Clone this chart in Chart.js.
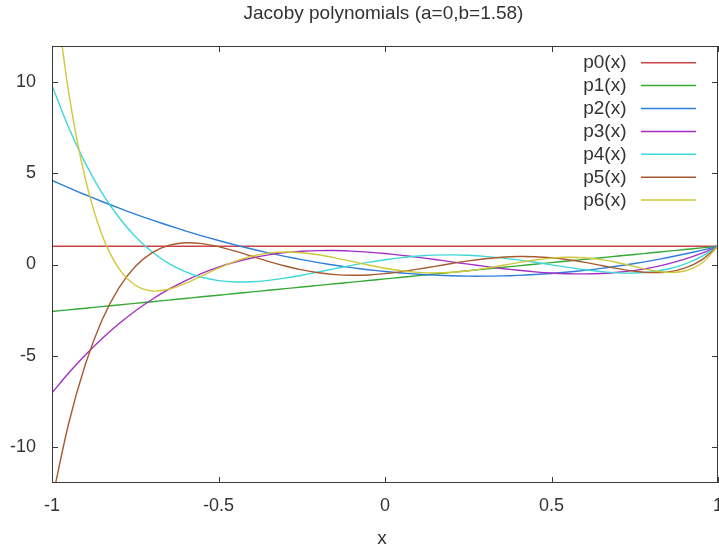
<!DOCTYPE html>
<html>
<head>
<meta charset="utf-8">
<script src="https://cdn.jsdelivr.net/npm/chart.js@4.4.1/dist/chart.umd.min.js"></script>
<style>
html,body{margin:0;padding:0;background:#ffffff;}
#wrap{width:719px;height:552px;position:relative;}
</style>
</head>
<body>
<div id="wrap"><canvas id="c" width="719" height="552"></canvas></div>
<script>
const titleText = 'Jacoby polynomials (a=0,b=1.58)';
const xAxisLabel = 'x';

const xs = [-1,-0.95,-0.9,-0.85,-0.8,-0.75,-0.7,-0.65,-0.6,-0.55,-0.5,-0.45,-0.4,-0.35,-0.3,-0.25,-0.2,-0.15,-0.1,-0.05,0,0.05,0.1,0.15,0.2,0.25,0.3,0.35,0.4,0.45,0.5,0.55,0.6,0.65,0.7,0.75,0.8,0.85,0.9,0.95,1];

const p0 = [1,1,1,1,1,1,1,1,1,1,1,1,1,1,1,1,1,1,1,1,1,1,1,1,1,1,1,1,1,1,1,1,1,1,1,1,1,1,1,1,1];
const p1 = [-2.58,-2.491,-2.401,-2.312,-2.222,-2.133,-2.043,-1.954,-1.864,-1.775,-1.685,-1.596,-1.506,-1.417,-1.327,-1.238,-1.148,-1.059,-0.969,-0.880,-0.79,-0.701,-0.611,-0.522,-0.432,-0.343,-0.253,-0.164,-0.074,0.016,0.105,0.195,0.284,0.374,0.463,0.553,0.642,0.732,0.821,0.911,1];
const p2 = [4.618,4.216,3.830,3.460,3.106,2.768,2.446,2.140,1.850,1.576,1.318,1.076,0.849,0.639,0.445,0.266,0.104,-0.042,-0.173,-0.287,-0.385,-0.468,-0.534,-0.585,-0.619,-0.638,-0.641,-0.627,-0.598,-0.553,-0.491,-0.414,-0.321,-0.212,-0.086,0.055,0.212,0.385,0.574,0.779,1];
const p3 = [-7.050,-5.959,-4.968,-4.073,-3.270,-2.555,-1.924,-1.371,-0.893,-0.486,-0.144,0.136,0.358,0.528,0.650,0.727,0.764,0.765,0.736,0.679,0.601,0.504,0.393,0.273,0.147,0.021,-0.101,-0.216,-0.318,-0.403,-0.468,-0.507,-0.516,-0.491,-0.428,-0.323,-0.170,0.035,0.295,0.615,1];
const p4 = [9.835,7.520,5.567,3.940,2.607,1.537,0.698,0.063,-0.396,-0.703,-0.883,-0.958,-0.948,-0.871,-0.746,-0.588,-0.411,-0.227,-0.048,0.118,0.262,0.379,0.463,0.513,0.527,0.505,0.449,0.363,0.251,0.121,-0.019,-0.159,-0.288,-0.392,-0.458,-0.468,-0.404,-0.247,0.023,0.431,1];
const p5 = [-12.943,-8.730,-5.488,-3.061,-1.311,-0.115,0.638,1.046,1.191,1.148,0.978,0.731,0.451,0.171,-0.085,-0.298,-0.456,-0.555,-0.592,-0.573,-0.503,-0.394,-0.255,-0.102,0.053,0.196,0.315,0.398,0.437,0.427,0.367,0.259,0.114,-0.055,-0.226,-0.369,-0.446,-0.410,-0.203,0.240,1];
const p6 = [16.352,9.458,4.718,1.635,-0.202,-1.138,-1.451,-1.361,-1.042,-0.624,-0.198,0.173,0.451,0.622,0.683,0.647,0.533,0.365,0.169,-0.029,-0.207,-0.346,-0.433,-0.461,-0.429,-0.342,-0.213,-0.058,0.102,0.245,0.349,0.395,0.369,0.267,0.098,-0.112,-0.314,-0.432,-0.358,0.055,1];

const seriesNames = ['p0(x)','p1(x)','p2(x)','p3(x)','p4(x)','p5(x)','p6(x)'];
const seriesColors = ['#c84646','#35a835','#2f7fd8','#a52fc4','#3fd8d8','#a65a2e','#cfc83a'];

const xTickValues = [-1,-0.5,0,0.5,1];
const yTickValues = [-10,-5,0,5,10];
const xRange = [-1, 1];
const yRange = [-12, 12];

const FONT = '"Liberation Sans", Arial, sans-serif';
const TEXT_COLOR = '#333333';

const series = [p0,p1,p2,p3,p4,p5,p6];
const datasets = series.map((arr, i) => ({
  label: seriesNames[i],
  data: arr.map((v, j) => ({x: xs[j], y: v})),
  borderColor: seriesColors[i],
  backgroundColor: seriesColors[i],
  borderWidth: 1.4,
  pointRadius: 0,
  pointHoverRadius: 0,
  tension: 0.3,
  fill: false,
  order: series.length - 1 - i
}));

const framePlugin = {
  id: 'frame',
  afterDraw(chart) {
    const ctx = chart.ctx;
    const a = chart.chartArea;
    const xs_ = chart.scales.x, ys_ = chart.scales.y;
    ctx.save();
    ctx.strokeStyle = '#3a3a3a';
    ctx.lineWidth = 1;
    ctx.strokeRect(a.left + 0.5, a.top + 0.5, a.right - a.left - 1, a.bottom - a.top - 1);
    const tl = 6;
    ctx.beginPath();
    xTickValues.forEach(v => {
      const px = Math.round(xs_.getPixelForValue(v)) + 0.5;
      ctx.moveTo(px, a.bottom); ctx.lineTo(px, a.bottom - tl);
      ctx.moveTo(px, a.top); ctx.lineTo(px, a.top + tl);
    });
    yTickValues.forEach(v => {
      const py = Math.round(ys_.getPixelForValue(v)) + 0.5;
      ctx.moveTo(a.left, py); ctx.lineTo(a.left + tl, py);
      ctx.moveTo(a.right, py); ctx.lineTo(a.right - tl, py);
    });
    ctx.stroke();
    ctx.fillStyle = TEXT_COLOR;
    ctx.font = '19px ' + FONT;
    ctx.textAlign = 'center';
    ctx.textBaseline = 'alphabetic';
    ctx.fillText(titleText, 383.5, 18.5);
    ctx.fillText(xAxisLabel, 382, 544);
    const rowY0 = 62.7, rowStep = 22.9;
    chart.data.datasets.forEach((ds, i) => {
      const yy = rowY0 + i * rowStep;
      ctx.fillStyle = TEXT_COLOR;
      ctx.textAlign = 'right';
      ctx.fillText(ds.label, 626.5, yy + 5.5);
      ctx.strokeStyle = ds.borderColor;
      ctx.lineWidth = 1.5;
      ctx.beginPath();
      ctx.moveTo(641, yy); ctx.lineTo(696, yy);
      ctx.stroke();
    });
    ctx.restore();
  }
};

new Chart(document.getElementById('c'), {
  type: 'line',
  data: { datasets },
  options: {
    responsive: false,
    animation: false,
    devicePixelRatio: 1,
    events: [],
    layout: { padding: { top: 46, right: 1, bottom: 0, left: 0 } },
    plugins: {
      legend: { display: false },
      title: { display: false },
      tooltip: { enabled: false }
    },
    scales: {
      x: {
        type: 'linear',
        min: xRange[0], max: xRange[1],
        grid: { display: false, drawTicks: false },
        border: { display: false },
        afterBuildTicks: s => { s.ticks = xTickValues.map(v => ({value: v})); },
        afterFit: s => { s.height = 69; s.paddingLeft = 0; s.paddingRight = 0; },
        ticks: {
          padding: 12.5,
          maxRotation: 0,
          autoSkip: false,
          color: TEXT_COLOR,
          font: { family: FONT, size: 18 },
          callback: v => String(v)
        }
      },
      y: {
        type: 'linear',
        min: yRange[0], max: yRange[1],
        grid: { display: false, drawTicks: false },
        border: { display: false },
        afterBuildTicks: s => { s.ticks = yTickValues.map(v => ({value: v})); },
        afterFit: s => { s.width = 52; s.paddingTop = 0; s.paddingBottom = 0; },
        ticks: {
          padding: 16,
          autoSkip: false,
          color: TEXT_COLOR,
          font: { family: FONT, size: 18 },
          callback: v => String(v)
        }
      }
    }
  },
  plugins: [framePlugin]
});
</script>
</body>
</html>
